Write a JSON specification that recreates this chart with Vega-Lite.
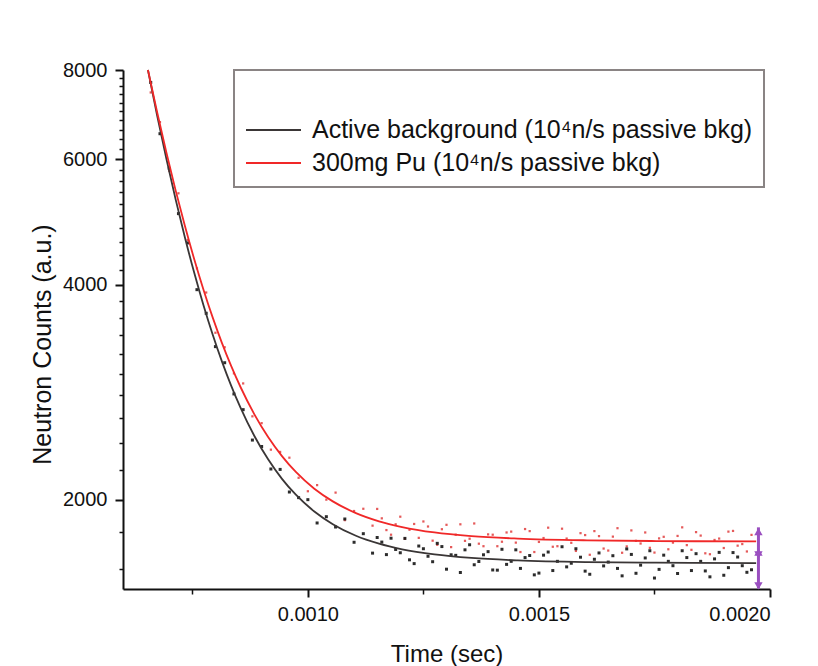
{
"$schema": "https://vega.github.io/schema/vega-lite/v6.json",
"width": 647, "height": 519,
"autosize": "none",
"padding": {"left": 123, "top": 70, "right": 48, "bottom": 77},
"background": "white",
"config": {
  "view": {"stroke": null},
  "font": "Liberation Sans",
  "axis": {"grid": false, "domainColor": "#111", "domainWidth": 2, "tickColor": "#111", "labelFont": "Liberation Sans", "labelFontSize": 20, "labelColor": "#111", "titleFont": "Liberation Sans", "titleFontSize": 24, "titleFontWeight": "normal", "titleColor": "#111", "labelPadding": 6, "labelOverlap": false},
  "legend": {"strokeWidth": 2}
},
"datasets": {
  "fit": [
    {"t":0.000654,"v":8000,"s":"A"},{"t":0.000674,"v":6902,"s":"A"},{"t":0.000694,"v":6003,"s":"A"},{"t":0.000714,"v":5267,"s":"A"},{"t":0.000734,"v":4661,"s":"A"},{"t":0.000754,"v":4162,"s":"A"},{"t":0.000774,"v":3750,"s":"A"},{"t":0.000794,"v":3409,"s":"A"},{"t":0.000814,"v":3126,"s":"A"},{"t":0.000834,"v":2891,"s":"A"},{"t":0.000854,"v":2695,"s":"A"},{"t":0.000884,"v":2459,"s":"A"},{"t":0.000914,"v":2279,"s":"A"},{"t":0.000944,"v":2140,"s":"A"},{"t":0.000974,"v":2033,"s":"A"},{"t":0.001014,"v":1926,"s":"A"},{"t":0.001054,"v":1849,"s":"A"},{"t":0.001104,"v":1781,"s":"A"},{"t":0.001154,"v":1736,"s":"A"},{"t":0.001204,"v":1705,"s":"A"},{"t":0.001274,"v":1677,"s":"A"},{"t":0.001354,"v":1658,"s":"A"},{"t":0.001454,"v":1645,"s":"A"},{"t":0.001604,"v":1636,"s":"A"},{"t":0.001754,"v":1633,"s":"A"},{"t":0.00197,"v":1631,"s":"A"},
    {"t":0.000654,"v":8000,"s":"B"},{"t":0.000674,"v":6974,"s":"B"},{"t":0.000694,"v":6125,"s":"B"},{"t":0.000714,"v":5421,"s":"B"},{"t":0.000734,"v":4836,"s":"B"},{"t":0.000754,"v":4349,"s":"B"},{"t":0.000774,"v":3942,"s":"B"},{"t":0.000794,"v":3602,"s":"B"},{"t":0.000814,"v":3318,"s":"B"},{"t":0.000834,"v":3080,"s":"B"},{"t":0.000854,"v":2880,"s":"B"},{"t":0.000884,"v":2637,"s":"B"},{"t":0.000914,"v":2449,"s":"B"},{"t":0.000944,"v":2303,"s":"B"},{"t":0.000974,"v":2188,"s":"B"},{"t":0.001014,"v":2073,"s":"B"},{"t":0.001054,"v":1990,"s":"B"},{"t":0.001104,"v":1916,"s":"B"},{"t":0.001154,"v":1866,"s":"B"},{"t":0.001204,"v":1832,"s":"B"},{"t":0.001274,"v":1800,"s":"B"},{"t":0.001354,"v":1779,"s":"B"},{"t":0.001454,"v":1765,"s":"B"},{"t":0.001604,"v":1755,"s":"B"},{"t":0.001754,"v":1751,"s":"B"},{"t":0.00197,"v":1749,"s":"B"}
  ],
  "pts": [
    {"t":0.00066,"v":7685,"s":"A"},{"t":0.00068,"v":6514,"s":"A"},{"t":0.0007,"v":5825,"s":"A"},{"t":0.00072,"v":5034,"s":"A"},{"t":0.00074,"v":4580,"s":"A"},{"t":0.00076,"v":3939,"s":"A"},{"t":0.00078,"v":3650,"s":"A"},{"t":0.0008,"v":3278,"s":"A"},{"t":0.00082,"v":3112,"s":"A"},{"t":0.00084,"v":2814,"s":"A"},{"t":0.00086,"v":2675,"s":"A"},{"t":0.00088,"v":2425,"s":"A"},{"t":0.0009,"v":2375,"s":"A"},{"t":0.00092,"v":2209,"s":"A"},{"t":0.00094,"v":2206,"s":"A"},{"t":0.00096,"v":2051,"s":"A"},{"t":0.00098,"v":2014,"s":"A"},{"t":0.001,"v":2001,"s":"A"},{"t":0.00102,"v":1856,"s":"A"},{"t":0.00104,"v":1894,"s":"A"},{"t":0.00106,"v":1832,"s":"A"},{"t":0.00108,"v":1880,"s":"A"},{"t":0.0011,"v":1744,"s":"A"},{"t":0.00112,"v":1793,"s":"A"},{"t":0.00114,"v":1684,"s":"A"},{"t":0.00116,"v":1745,"s":"A"},{"t":0.00118,"v":1767,"s":"A"},{"t":0.0012,"v":1686,"s":"A"},{"t":0.00122,"v":1648,"s":"A"},{"t":0.00124,"v":1723,"s":"A"},{"t":0.00126,"v":1667,"s":"A"},{"t":0.00128,"v":1738,"s":"A"},{"t":0.0013,"v":1599,"s":"A"},{"t":0.00132,"v":1672,"s":"A"},{"t":0.00134,"v":1702,"s":"A"},{"t":0.00136,"v":1622,"s":"A"},{"t":0.00138,"v":1675,"s":"A"},{"t":0.0014,"v":1595,"s":"A"},{"t":0.00142,"v":1705,"s":"A"},{"t":0.00144,"v":1640,"s":"A"},{"t":0.00146,"v":1603,"s":"A"},{"t":0.00148,"v":1671,"s":"A"},{"t":0.0015,"v":1579,"s":"A"},{"t":0.00152,"v":1690,"s":"A"},{"t":0.00154,"v":1640,"s":"A"},{"t":0.00156,"v":1611,"s":"A"},{"t":0.00158,"v":1708,"s":"A"},{"t":0.0016,"v":1589,"s":"A"},{"t":0.00162,"v":1651,"s":"A"},{"t":0.00164,"v":1616,"s":"A"},{"t":0.00166,"v":1670,"s":"A"},{"t":0.00168,"v":1565,"s":"A"},{"t":0.0017,"v":1677,"s":"A"},{"t":0.00172,"v":1620,"s":"A"},{"t":0.00174,"v":1697,"s":"A"},{"t":0.00176,"v":1598,"s":"A"},{"t":0.00178,"v":1640,"s":"A"},{"t":0.0018,"v":1577,"s":"A"},{"t":0.00182,"v":1660,"s":"A"},{"t":0.00184,"v":1681,"s":"A"},{"t":0.00186,"v":1590,"s":"A"},{"t":0.00188,"v":1653,"s":"A"},{"t":0.0019,"v":1568,"s":"A"},{"t":0.00192,"v":1687,"s":"A"},{"t":0.00194,"v":1617,"s":"A"},{"t":0.00196,"v":1596,"s":"A"},
    {"t":0.00115,"v":1771,"s":"A"},{"t":0.00117,"v":1676,"s":"A"},{"t":0.00119,"v":1704,"s":"A"},{"t":0.00121,"v":1766,"s":"A"},{"t":0.00123,"v":1628,"s":"A"},{"t":0.00125,"v":1708,"s":"A"},{"t":0.00127,"v":1638,"s":"A"},{"t":0.00129,"v":1720,"s":"A"},{"t":0.00131,"v":1675,"s":"A"},{"t":0.00133,"v":1582,"s":"A"},{"t":0.00135,"v":1730,"s":"A"},{"t":0.00137,"v":1639,"s":"A"},{"t":0.00139,"v":1692,"s":"A"},{"t":0.00141,"v":1594,"s":"A"},{"t":0.00143,"v":1624,"s":"A"},{"t":0.00145,"v":1702,"s":"A"},{"t":0.00147,"v":1660,"s":"A"},{"t":0.00149,"v":1570,"s":"A"},{"t":0.00151,"v":1673,"s":"A"},{"t":0.00153,"v":1592,"s":"A"},{"t":0.00155,"v":1719,"s":"A"},{"t":0.00157,"v":1630,"s":"A"},{"t":0.00159,"v":1662,"s":"A"},{"t":0.00161,"v":1573,"s":"A"},{"t":0.00163,"v":1685,"s":"A"},{"t":0.00165,"v":1636,"s":"A"},{"t":0.00167,"v":1603,"s":"A"},{"t":0.00169,"v":1707,"s":"A"},{"t":0.00171,"v":1578,"s":"A"},{"t":0.00173,"v":1658,"s":"A"},{"t":0.00175,"v":1554,"s":"A"},{"t":0.00177,"v":1673,"s":"A"},{"t":0.00179,"v":1617,"s":"A"},{"t":0.00181,"v":1697,"s":"A"},{"t":0.00183,"v":1592,"s":"A"},{"t":0.00185,"v":1640,"s":"A"},{"t":0.00187,"v":1560,"s":"A"},{"t":0.00189,"v":1688,"s":"A"},{"t":0.00191,"v":1607,"s":"A"},{"t":0.00193,"v":1663,"s":"A"},{"t":0.00195,"v":1583,"s":"A"},
    {"t":0.00066,"v":7441,"s":"B"},{"t":0.00068,"v":6763,"s":"B"},{"t":0.0007,"v":5776,"s":"B"},{"t":0.00072,"v":5375,"s":"B"},{"t":0.00074,"v":4624,"s":"B"},{"t":0.00076,"v":4219,"s":"B"},{"t":0.00078,"v":3903,"s":"B"},{"t":0.0008,"v":3428,"s":"B"},{"t":0.00082,"v":3271,"s":"B"},{"t":0.00084,"v":3007,"s":"B"},{"t":0.00086,"v":2911,"s":"B"},{"t":0.00088,"v":2618,"s":"B"},{"t":0.0009,"v":2561,"s":"B"},{"t":0.00092,"v":2351,"s":"B"},{"t":0.00094,"v":2334,"s":"B"},{"t":0.00096,"v":2291,"s":"B"},{"t":0.00098,"v":2147,"s":"B"},{"t":0.001,"v":2056,"s":"B"},{"t":0.00102,"v":2097,"s":"B"},{"t":0.00104,"v":2001,"s":"B"},{"t":0.00106,"v":2047,"s":"B"},{"t":0.00108,"v":1873,"s":"B"},{"t":0.0011,"v":1929,"s":"B"},{"t":0.00112,"v":1943,"s":"B"},{"t":0.00114,"v":1840,"s":"B"},{"t":0.00116,"v":1884,"s":"B"},{"t":0.00118,"v":1787,"s":"B"},{"t":0.0012,"v":1894,"s":"B"},{"t":0.00122,"v":1816,"s":"B"},{"t":0.00124,"v":1769,"s":"B"},{"t":0.00126,"v":1835,"s":"B"},{"t":0.00128,"v":1730,"s":"B"},{"t":0.0013,"v":1845,"s":"B"},{"t":0.00132,"v":1787,"s":"B"},{"t":0.00134,"v":1752,"s":"B"},{"t":0.00136,"v":1853,"s":"B"},{"t":0.00138,"v":1722,"s":"B"},{"t":0.0014,"v":1787,"s":"B"},{"t":0.00142,"v":1747,"s":"B"},{"t":0.00144,"v":1805,"s":"B"},{"t":0.00146,"v":1690,"s":"B"},{"t":0.00148,"v":1808,"s":"B"},{"t":0.0015,"v":1746,"s":"B"},{"t":0.00152,"v":1828,"s":"B"},{"t":0.00154,"v":1722,"s":"B"},{"t":0.00156,"v":1765,"s":"B"},{"t":0.00158,"v":1696,"s":"B"},{"t":0.0016,"v":1785,"s":"B"},{"t":0.00162,"v":1808,"s":"B"},{"t":0.00164,"v":1709,"s":"B"},{"t":0.00166,"v":1776,"s":"B"},{"t":0.00168,"v":1686,"s":"B"},{"t":0.0017,"v":1812,"s":"B"},{"t":0.00172,"v":1737,"s":"B"},{"t":0.00174,"v":1713,"s":"B"},{"t":0.00176,"v":1766,"s":"B"},{"t":0.00178,"v":1705,"s":"B"},{"t":0.0018,"v":1780,"s":"B"},{"t":0.00182,"v":1728,"s":"B"},{"t":0.00184,"v":1802,"s":"B"},{"t":0.00186,"v":1683,"s":"B"},{"t":0.00188,"v":1757,"s":"B"},{"t":0.0019,"v":1712,"s":"B"},{"t":0.00192,"v":1809,"s":"B"},{"t":0.00194,"v":1734,"s":"B"},{"t":0.00196,"v":1786,"s":"B"},
    {"t":0.00115,"v":1942,"s":"B"},{"t":0.00117,"v":1814,"s":"B"},{"t":0.00119,"v":1848,"s":"B"},{"t":0.00121,"v":1764,"s":"B"},{"t":0.00123,"v":1850,"s":"B"},{"t":0.00125,"v":1865,"s":"B"},{"t":0.00127,"v":1753,"s":"B"},{"t":0.00129,"v":1819,"s":"B"},{"t":0.00131,"v":1717,"s":"B"},{"t":0.00133,"v":1848,"s":"B"},{"t":0.00135,"v":1764,"s":"B"},{"t":0.00137,"v":1736,"s":"B"},{"t":0.00139,"v":1789,"s":"B"},{"t":0.00141,"v":1722,"s":"B"},{"t":0.00143,"v":1800,"s":"B"},{"t":0.00145,"v":1742,"s":"B"},{"t":0.00147,"v":1820,"s":"B"},{"t":0.00149,"v":1690,"s":"B"},{"t":0.00151,"v":1768,"s":"B"},{"t":0.00153,"v":1719,"s":"B"},{"t":0.00155,"v":1822,"s":"B"},{"t":0.00157,"v":1741,"s":"B"},{"t":0.00159,"v":1796,"s":"B"},{"t":0.00161,"v":1675,"s":"B"},{"t":0.00163,"v":1779,"s":"B"},{"t":0.00165,"v":1698,"s":"B"},{"t":0.00167,"v":1825,"s":"B"},{"t":0.00169,"v":1721,"s":"B"},{"t":0.00171,"v":1752,"s":"B"},{"t":0.00173,"v":1800,"s":"B"},{"t":0.00175,"v":1687,"s":"B"},{"t":0.00177,"v":1775,"s":"B"},{"t":0.00179,"v":1742,"s":"B"},{"t":0.00181,"v":1830,"s":"B"},{"t":0.00183,"v":1702,"s":"B"},{"t":0.00185,"v":1782,"s":"B"},{"t":0.00187,"v":1678,"s":"B"},{"t":0.00189,"v":1765,"s":"B"},{"t":0.00191,"v":1805,"s":"B"},{"t":0.00193,"v":1725,"s":"B"},{"t":0.00195,"v":1693,"s":"B"}
  ],
  "marker": [{"t":0.001975,"v":1503,"v2":1830}],
  "heads": [{"t":0.001975,"v":1805,"d":"up"},{"t":0.001975,"v":1515,"d":"down"},{"t":0.001975,"v":1690,"d":"up"},{"t":0.001975,"v":1675,"d":"down"}]
},
"encoding": {
  "x": {"field": "t", "type": "quantitative",
        "scale": {"domain": [0.0006, 0.002], "nice": false, "zero": false},
        "axis": {"title": "Time (sec)", "values": [0.00075, 0.001, 0.00125, 0.0015, 0.00175, 0.002], "format": ".4f",
                 "labelExpr": "abs(datum.value*2000-round(datum.value*2000))<0.01 ? datum.label : ''",
                 "tickSize": {"condition": {"test": "abs(datum.value*2000-round(datum.value*2000))<0.01", "value": 8}, "value": 5},
                 "tickWidth": {"condition": {"test": "abs(datum.value*2000-round(datum.value*2000))<0.01", "value": 2}, "value": 1.5},
                 "labelPadding": 7, "titlePadding": 18}},
  "y": {"field": "v", "type": "quantitative",
        "scale": {"type": "log", "domain": [1500, 8000], "nice": false},
        "axis": {"title": "Neutron Counts (a.u.)", "values": [1600,1800,2000,2200,2400,2600,2800,3000,3200,3400,3600,3800,4000,4200,4400,4600,4800,5000,5200,5400,5600,5800,6000,6200,6400,6600,6800,7000,7200,7400,7600,7800,8000], "format": "d",
                 "labelExpr": "datum.value % 2000 === 0 ? datum.label : ''",
                 "tickSize": {"condition": {"test": "datum.value % 2000 === 0", "value": 8}, "value": 4},
                 "tickWidth": {"condition": {"test": "datum.value % 2000 === 0", "value": 2}, "value": 1.5},
                 "labelPadding": 8, "titlePadding": 7, "titleFontSize": 25, "titleY": 274}}
},
"layer": [
  {"data": {"name": "pts"},
   "transform": [{"filter": "datum.s == 'B'"}],
   "mark": {"type": "point", "shape": "square", "filled": true, "color": "#e24848", "size": 5, "opacity": 0.9}},
  {"data": {"name": "pts"},
   "transform": [{"filter": "datum.s == 'A'"}],
   "mark": {"type": "point", "shape": "square", "filled": true, "color": "#151515", "size": 9, "opacity": 0.9}},
  {"data": {"name": "fit"},
   "mark": {"type": "line", "strokeWidth": 1.8, "interpolate": "monotone"},
   "encoding": {
     "color": {"field": "s", "type": "nominal",
               "scale": {"domain": ["A", "B"], "range": ["#3a3636", "#f02828"]},
               "legend": {"title": " ", "orient": "none", "legendX": 111, "legendY": 0,
                          "strokeColor": "#8a8484", "fillColor": "white", "padding": 11,
                          "labelFont": "Liberation Sans", "labelFontSize": 25, "labelColor": "#111", "labelLimit": 800, "labelOffset": 10,
                          "symbolType": "stroke", "symbolSize": 3025, "symbolStrokeWidth": 1.8, "rowPadding": 8, "clipHeight": 24,
                          "titleFontSize": 24, "titlePadding": 13,
                          "labelExpr": "datum.value == 'A' ? 'Active background (10⁴n/s passive bkg)' : '300mg Pu (10⁴n/s passive bkg)'"}}
   }},
  {"data": {"name": "marker"},
   "mark": {"type": "rule", "color": "#9a4fc0", "strokeWidth": 3},
   "encoding": {"y2": {"field": "v2"}}},
  {"data": {"name": "heads"},
   "mark": {"type": "point", "filled": true, "color": "#9a4fc0", "opacity": 1},
   "encoding": {
     "shape": {"field": "d", "type": "nominal", "scale": {"domain": ["up", "down"], "range": ["triangle-up", "triangle-down"]}, "legend": null},
     "size": {"value": 70}
   }}
]
}
